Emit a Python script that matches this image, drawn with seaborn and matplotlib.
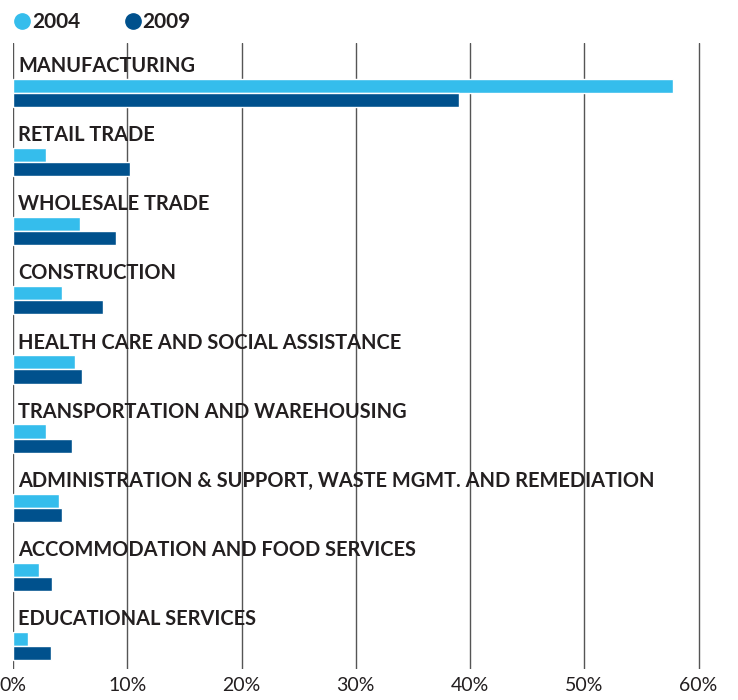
import pandas as pd
import seaborn as sns
import matplotlib
matplotlib.use('Agg')
import matplotlib.pyplot as plt
from matplotlib.lines import Line2D

industries = [
    "MANUFACTURING",
    "RETAIL TRADE",
    "WHOLESALE TRADE",
    "CONSTRUCTION",
    "HEALTH CARE AND SOCIAL ASSISTANCE",
    "TRANSPORTATION AND WAREHOUSING",
    "ADMINISTRATION & SUPPORT, WASTE MGMT. AND REMEDIATION",
    "ACCOMMODATION AND FOOD SERVICES",
    "EDUCATIONAL SERVICES",
]
share_2004 = [57.8, 2.9, 5.9, 4.3, 5.4, 2.9, 4.0, 2.3, 1.3]
share_2009 = [39.0, 10.2, 9.0, 7.9, 6.0, 5.2, 4.3, 3.4, 3.3]
years = ["2004", "2009"]
colors = ["#35bdec", "#00518d"]
ticks = [0, 10, 20, 30, 40, 50, 60]

df = pd.DataFrame({"industry": industries, "2004": share_2004, "2009": share_2009})
df = df.melt(id_vars="industry", var_name="year", value_name="share")

sns.set_style("white")
plt.rcParams['font.family'] = ['Lato', 'DejaVu Sans']
text_color = "#231f20"

fig = plt.figure(figsize=(7.38, 7.0), dpi=100)
ax = fig.add_axes([13 / 738, 31 / 700, 689 / 738, 626 / 700])

sns.barplot(data=df, y="industry", x="share", hue="year", hue_order=years,
            palette=colors, width=0.41, orient="h", saturation=1,
            legend=False, ax=ax)

ax.set_ylim(len(industries) - 1 + 0.33, -0.72)
ax.set_xlim(0, 60.3)
ax.set_xticks(ticks)
ax.set_xticklabels([f"{t}%" for t in ticks], fontsize=14, color=text_color)
ax.set_yticks([])
ax.set_xlabel("")
ax.set_ylabel("")
ax.tick_params(axis="x", length=0, pad=6)
ax.grid(axis="x", color="#555555", lw=1)
ax.set_axisbelow(True)
for s in ax.spines.values():
    s.set_visible(False)

# category names sit above each pair of bars
for i, name in enumerate(industries):
    ax.text(0.45, i - 0.39, name, va="center", ha="left", fontsize=14.4,
            fontweight="bold", color=text_color)

handles = [Line2D([], [], marker="o", ls="", color=c, markersize=11) for c in colors]
fig.legend(handles, years, loc="upper left", bbox_to_anchor=(-0.002, 1.003), ncol=2,
           frameon=False, handletextpad=0.0, columnspacing=2.1, handlelength=0.9,
           prop={"size": 15, "weight": "bold"}, labelcolor=text_color,
           borderaxespad=0.3)

fig.savefig("out.png", dpi=100)
